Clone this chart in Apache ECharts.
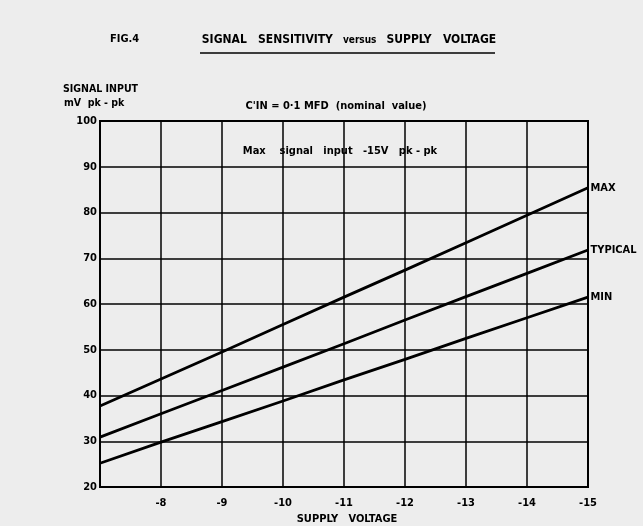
<!DOCTYPE html>
<html>
<head>
<meta charset="utf-8">
<script src="https://cdn.jsdelivr.net/npm/echarts@6/dist/echarts.min.js"></script>
<style>html,body{margin:0;padding:0;background:#fff;}#c{width:643px;height:526px;}</style>
</head>
<body>
<div id="c"></div>
<script>
// Supply voltage (V) at each grid line
var voltages = [-7, -8, -9, -10, -11, -12, -13, -14, -15];
// Signal input (mV pk-pk)
var maxValues     = [37.7, 43.6, 49.5, 55.5, 61.5, 67.4, 73.4, 79.4, 85.4];
var typicalValues = [30.9, 36.0, 41.1, 46.2, 51.3, 56.5, 61.6, 66.7, 71.8];
var minValues     = [25.2, 29.8, 34.3, 38.8, 43.4, 47.9, 52.5, 57.0, 61.5];
var seriesNames = ['MAX', 'TYPICAL', 'MIN'];
var yTicks = [20, 30, 40, 50, 60, 70, 80, 90, 100];

var FONT = "'DejaVu Sans Condensed', 'DejaVu Sans', sans-serif";

function pairs(vals, name) {
  return voltages.map(function (v, i) {
    var item = {value: [v, vals[i]]};
    if (i === voltages.length - 1) {
      item.label = {
        show: true, position: 'right', distance: 2, formatter: name,
        color: '#000', fontFamily: FONT, fontWeight: 'bold', fontSize: 11
      };
    }
    return item;
  });
}

var chart = echarts.init(document.getElementById('c'), null, {renderer: 'canvas'});

var lineSeries = [maxValues, typicalValues, minValues].map(function (vals, i) {
  return {
    name: seriesNames[i],
    type: 'line',
    data: pairs(vals, seriesNames[i]),
    showSymbol: true,
    symbol: 'circle',
    symbolSize: 1,
    itemStyle: {color: 'rgba(0,0,0,0)'},
    silent: true,
    lineStyle: {color: '#000', width: 2.8},
    label: {show: false}
  };
});

chart.setOption({
  backgroundColor: '#ededed',
  animation: false,
  grid: {
    left: 100, top: 121, right: 55, bottom: 39,
    show: true, backgroundColor: 'transparent',
    borderColor: '#000', borderWidth: 2
  },
  xAxis: {
    type: 'value',
    min: -15, max: -7, interval: 1,
    inverse: true,
    axisLine: {show: true, lineStyle: {color: '#000', width: 2}},
    axisTick: {show: false},
    splitLine: {show: true, lineStyle: {color: '#000', width: 1.5}},
    axisLabel: {
      color: '#000', fontFamily: FONT, fontWeight: 'bold', fontSize: 11, margin: 11,
      formatter: function (v) { return v === -7 ? '' : String(v); }
    }
  },
  yAxis: {
    type: 'value',
    min: yTicks[0], max: yTicks[yTicks.length - 1], interval: 10,
    axisLine: {show: true, lineStyle: {color: '#000', width: 2}},
    axisTick: {show: false},
    splitLine: {show: true, lineStyle: {color: '#000', width: 1.5}},
    axisLabel: {color: '#000', fontFamily: FONT, fontWeight: 'bold', fontSize: 11, margin: 3}
  },
  graphic: [
    {type: 'text', left: 110, top: 34, style: {text: 'FIG.4', font: 'bold 11px ' + FONT, fill: '#000'}},
    {type: 'text', x: 349, y: 40, style: {
      text: '{a|SIGNAL   SENSITIVITY}   {b|versus}   {a|SUPPLY   VOLTAGE}',
      rich: {
        a: {fontFamily: FONT, fontWeight: 'bold', fontSize: 12, fill: '#000'},
        b: {fontFamily: FONT, fontWeight: 'bold', fontSize: 10, fill: '#000'}
      },
      align: 'center', verticalAlign: 'middle'}},
    {type: 'line', shape: {x1: 200, y1: 53, x2: 495, y2: 53}, style: {stroke: '#000', lineWidth: 1.5}},
    {type: 'text', left: 63, top: 84, style: {text: 'SIGNAL INPUT', font: 'bold 10.5px ' + FONT, fill: '#000'}},
    {type: 'text', left: 64, top: 98, style: {text: 'mV  pk - pk', font: 'bold 10.5px ' + FONT, fill: '#000'}},
    {type: 'text', x: 336, y: 106, style: {text: "C'IN = 0\u00b71 MFD  (nominal  value)", font: 'bold 11px ' + FONT, fill: '#000', align: 'center', verticalAlign: 'middle'}},
    {type: 'text', x: 340, y: 151, style: {text: 'Max    signal   input   -15V   pk - pk', font: 'bold 11px ' + FONT, fill: '#000', align: 'center', verticalAlign: 'middle'}},
    {type: 'text', x: 347, y: 519, style: {text: 'SUPPLY   VOLTAGE', font: 'bold 11px ' + FONT, fill: '#000', align: 'center', verticalAlign: 'middle'}}
  ],
  series: lineSeries
});
</script>
</body>
</html>
